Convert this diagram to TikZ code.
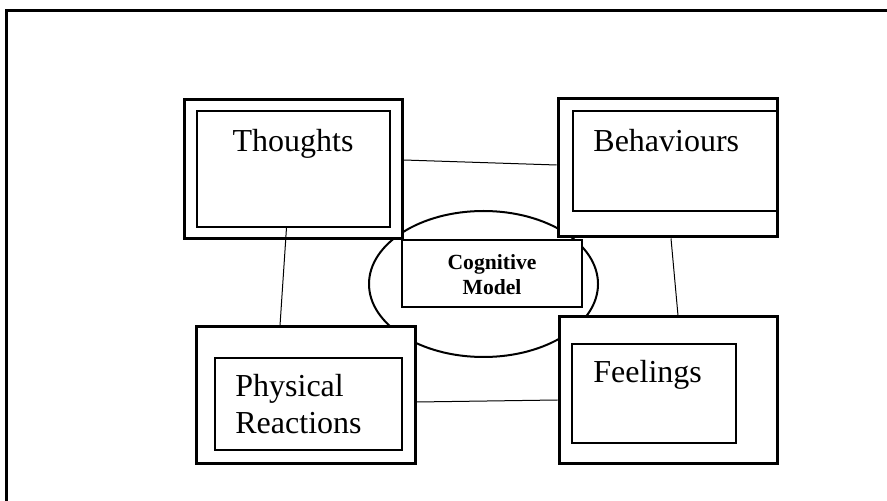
\documentclass[tikz,border=0pt]{standalone}
\usepackage{fontspec}
\setmainfont{Liberation Serif}
\usetikzlibrary{shapes.geometric}

\begin{document}
\begin{tikzpicture}[x=0.5pt,y=-0.5pt,
  outerbox/.style={draw,line width=1.5pt,fill=white,inner sep=0pt},
  innerbox/.style={draw,line width=0.6pt,fill=white,inner sep=0pt},
  boxtext/.style={font=\fontsize{16}{18}\selectfont,inner sep=0pt,align=left,anchor=base west},
  connector/.style={line width=0.5pt}]
  \useasboundingbox (0,0) rectangle (887,501);
  \draw[line width=1.5pt] (6.5,501) |- (887,11);
  \node[ellipse,draw,line width=1pt,minimum width=114.5pt,minimum height=73pt,inner sep=0pt] (model) at (483.5,284) {};
  \node[innerbox,minimum width=90pt,minimum height=33.5pt] (modelin) at (492,273.5) {};
  \node[outerbox,minimum width=109pt,minimum height=69.5pt] (thoughts) at (293,169.5) {};
  \node[innerbox,minimum width=96.5pt,minimum height=58pt] (thoughtsin) at (293.5,169) {};
  \node[outerbox,minimum width=109.5pt,minimum height=69pt] (behav) at (667.5,168) {};
  \node[innerbox,minimum width=102pt,minimum height=50pt] (behavin) at (675,161) {};
  \node[outerbox,minimum width=109.5pt,minimum height=68pt] (physical) at (305.5,395) {};
  \node[innerbox,minimum width=93.5pt,minimum height=46pt] (physicalin) at (308.5,404) {};
  \node[outerbox,minimum width=109pt,minimum height=73pt] (feelings) at (668,390) {};
  \node[innerbox,minimum width=82pt,minimum height=49.5pt] (feelingsin) at (654,393.5) {};
  \node[boxtext,anchor=base] (thoughtstxt) at (293,152) {Thoughts};
  \node[boxtext] (behavtxt) at (593,152) {Behaviours};
  \node[boxtext] (physicaltxt) at (235,433) {Physical\\Reactions};
  \node[boxtext] (feelingstxt) at (593,383) {Feelings};
  \node[font=\bfseries\fontsize{10.8}{12.5}\selectfont,align=center,anchor=base,inner sep=0pt] (modeltxt) at (492,295) {Cognitive\\Model};
  \draw[connector] ([shift={(0,-9.5)}]thoughts.east) -- ([shift={(0,-3)}]behav.west);
  \draw[connector] ([shift={(-7,0)}]thoughtsin.south) -- ([shift={(-25.5,0)}]physical.north);
  \draw[connector] ([shift={(3.5,0)}]behav.south) -- ([shift={(10,0)}]feelings.north);
  \draw[connector] ([shift={(0,7)}]physical.east) -- ([shift={(0,10)}]feelings.west);
\end{tikzpicture}
\end{document}
